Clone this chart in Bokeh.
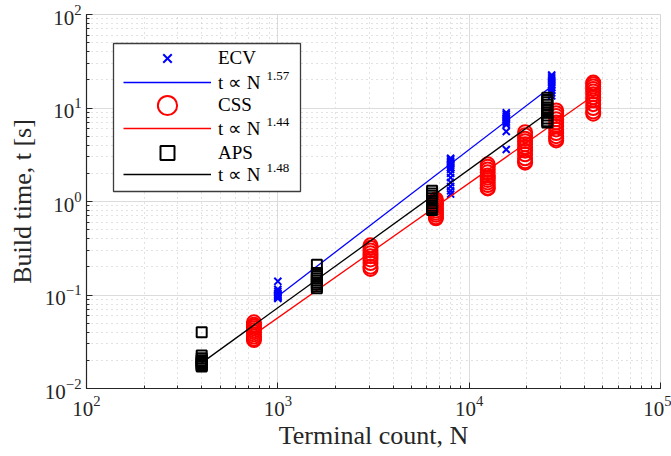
from bokeh.plotting import figure
from bokeh.models import Range1d, Legend, LegendItem, Label, BoxAnnotation, LogTicker
from bokeh.embed import file_html
from bokeh.resources import INLINE

# ---------------- data ----------------
ecv_N = [1000, 8000, 15625, 27000]
ecv_t = [
    [0.14, 0.115, 0.11, 0.105, 0.102, 0.1, 0.098, 0.096, 0.094, 0.092],
    [2.9, 2.8, 2.7, 2.6, 2.5, 2.4, 2.3, 2.2, 2.0, 1.8, 1.6, 1.45, 1.3, 1.2],
    [8.9, 8.5, 8.1, 7.8, 7.5, 7.2, 6.9, 6.6, 5.6, 3.6],
    [22.5, 21.5, 20.5, 19.5, 18.5, 17.5, 16.5, 15.5, 14.5, 13.5],
]
css_N = [750, 3050, 6700, 12500, 19600, 28500, 44500]
css_t = [
    [0.051, 0.048, 0.046, 0.044, 0.042, 0.04, 0.038, 0.036, 0.034, 0.033],
    [0.34, 0.32, 0.3, 0.28, 0.26, 0.24, 0.22, 0.2, 0.19],
    [1.05, 1.0, 0.95, 0.9, 0.85, 0.8, 0.76, 0.72, 0.68, 0.66],
    [2.5, 2.35, 2.2, 2.05, 1.9, 1.8, 1.7, 1.6, 1.5, 1.4, 1.38],
    [5.5, 5.1, 4.7, 4.4, 4.1, 3.8, 3.5, 3.2, 2.9, 2.7, 2.6],
    [9.4, 8.8, 8.2, 7.6, 7.0, 6.4, 5.9, 5.4, 5.0, 4.7, 4.5],
    [18.7, 18.0, 17.0, 16.0, 15.0, 14.0, 13.0, 12.0, 11.0, 10.0, 9.2, 8.7],
]
aps_N = [400, 1600, 6400, 25600]
aps_t = [
    [0.04, 0.0225, 0.021, 0.02, 0.0195, 0.019, 0.0185, 0.018, 0.0175, 0.0172],
    [0.21, 0.172, 0.165, 0.158, 0.15, 0.143, 0.136, 0.13, 0.124, 0.118],
    [1.3, 1.22, 1.15, 1.08, 1.02, 0.96, 0.9, 0.85, 0.81],
    [12.9, 12.2, 11.5, 10.8, 10.1, 9.5, 8.9, 8.3, 7.7, 7.2, 7.0],
]
# power-law fit lines (end points)
ecv_fit_N = [1000, 27000]
ecv_fit_t = [0.097, 17.1]
css_fit_N = [750, 44500]
css_fit_t = [0.0377, 13.5]
aps_fit_N = [400, 25600]
aps_fit_t = [0.0188, 8.85]
exponents = ["1.57", "1.44", "1.48"]
series_names = ["ECV", "CSS", "APS"]


def flatten(ns, ts):
    xs, ys = [], []
    for n, tt in zip(ns, ts):
        for t in tt:
            xs.append(n)
            ys.append(t)
    return xs, ys


FONT = "Liberation Serif"
L, R, T, B = 86, 660, 14, 388

p = figure(width=671, height=456, x_axis_type="log", y_axis_type="log",
           x_range=Range1d(100, 1e5), y_range=Range1d(0.01, 100),
           output_backend="svg", toolbar_location=None,
           min_border_left=L, min_border_right=671 - R,
           min_border_top=T, min_border_bottom=456 - B)
p.background_fill_color = "white"
p.border_fill_color = "white"
p.outline_line_color = "#d6d6d6"
p.outline_line_width = 1

for ax in (p.xaxis[0], p.yaxis[0]):
    ax.ticker = LogTicker(num_minor_ticks=10)
    ax.axis_line_color = "#262626"
    ax.axis_line_width = 1.2
    ax.major_tick_line_color = "#262626"
    ax.minor_tick_line_color = "#262626"
    ax.major_tick_in = 6
    ax.major_tick_out = 0
    ax.minor_tick_in = 3
    ax.minor_tick_out = 0
    ax.major_label_text_font = FONT
    ax.major_label_text_font_size = "21px"
    ax.major_label_text_color = "#262626"
    ax.axis_label_text_font = FONT
    ax.axis_label_text_font_size = "26px"
    ax.axis_label_text_font_style = "normal"
    ax.axis_label_text_color = "#262626"

p.xaxis.axis_label = "Terminal count, N"
p.yaxis.axis_label = "Build time, t [s]"
p.xaxis.major_label_standoff = 7
p.yaxis.major_label_standoff = 5
p.xaxis.axis_label_standoff = 2
p.yaxis.axis_label_standoff = 5

for g in (p.xgrid[0], p.ygrid[0]):
    g.grid_line_color = "#dcdcdc"
    g.grid_line_width = 1
    g.minor_grid_line_color = "#c4c4c4"
    g.minor_grid_line_dash = "1 4"
    g.minor_grid_line_width = 1

ex, ey = flatten(ecv_N, ecv_t)
cx, cy = flatten(css_N, css_t)
ax_, ay = flatten(aps_N, aps_t)

r_ecv = p.scatter(ex, ey, marker="x", size=10, line_color="#0000ff", line_width=2)
l_ecv = p.line(ecv_fit_N, ecv_fit_t, line_color="#0000ff", line_width=1.3)
r_css = p.scatter(cx, cy, marker="circle", size=14, line_color="#ff0000",
                  fill_color=None, line_width=2)
l_css = p.line(css_fit_N, css_fit_t, line_color="#ff0000", line_width=1.3)
r_aps = p.scatter(ax_, ay, marker="square", size=10, line_color="black",
                  fill_color=None, line_width=2)
l_aps = p.line(aps_fit_N, aps_fit_t, line_color="black", line_width=1.3)

# legend frame (canvas px -> frame screen units)
box_l, box_r, box_t, box_b = 113, 300, 43, 191
p.add_layout(BoxAnnotation(left=box_l - L, right=box_r - L, top=B - box_t, bottom=B - box_b,
                           left_units="screen", right_units="screen",
                           top_units="screen", bottom_units="screen",
                           fill_color="white", fill_alpha=1,
                           line_color="#3c3c3c", line_width=1.3, line_alpha=1))

PAD = 10
LEG_STYLE = dict(glyph_width=88, padding=PAD, label_standoff=7, label_width=72,
                 label_height=20, border_line_alpha=0, background_fill_alpha=0,
                 label_text_font=FONT, label_text_font_size="19px",
                 label_text_color="black")

# marker rows: one legend each so the sample marker can take its own size
marker_rows = [
    (series_names[0], r_ecv, 58, 30),
    (series_names[1], r_css, 105, 48),
    (series_names[2], r_aps, 152, 35),
]
for label, rend, yc, G in marker_rows:
    h = max(G, 24)
    bottom = yc + h / 2 + PAD
    p.add_layout(Legend(items=[LegendItem(label=label, renderers=[rend])],
                        location=(box_l - L, int(round(B - bottom))),
                        glyph_height=G, spacing=0, **LEG_STYLE))

# fit-line rows in one legend
fit_label = "t \u221d N"
line_rows_y = [82, 128, 174]
LG = 24
line_spacing = (line_rows_y[1] - line_rows_y[0]) - LG
fit_bottom = line_rows_y[0] + LG / 2 + PAD + 2 * (LG + line_spacing)
p.add_layout(Legend(items=[LegendItem(label=fit_label, renderers=[r])
                           for r in (l_ecv, l_css, l_aps)],
                    location=(box_l - L, int(round(B - fit_bottom))),
                    glyph_height=LG, spacing=line_spacing, **LEG_STYLE))

for i, e in enumerate(exponents):
    yc = line_rows_y[i] - 7
    p.add_layout(Label(x=266 - L, y=B - yc, x_units="screen", y_units="screen",
                       text=e, text_font=FONT, text_font_size="13px",
                       text_baseline="middle", text_color="black"))

open("out.html", "w").write(file_html(p, INLINE))
